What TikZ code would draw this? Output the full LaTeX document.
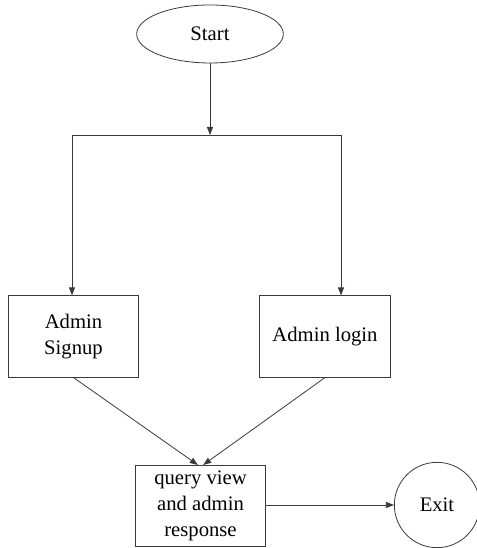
\documentclass[tikz,border=0pt]{standalone}
\usepackage{fontspec}
\setmainfont{Liberation Serif}
\usepackage{tikz}
\usetikzlibrary{
  arrows.meta,
  shapes.geometric,
  positioning,
  calc
}
\definecolor{fcLine}{HTML}{3A3A3A}
\tikzset{
  fcnode/.style={
    draw=fcLine, line width=0.6pt, align=center, inner sep=2pt,
    font=\rmfamily\fontsize{15.5}{19.5}\selectfont
  },
  terminal/.style={fcnode, ellipse, minimum width=110pt, minimum height=43.5pt},
  stepbox/.style={fcnode, rectangle, minimum width=98pt, minimum height=61pt},
  endcircle/.style={fcnode, circle, minimum size=64pt},
  flow/.style={-{Triangle[length=6pt, width=4.5pt]}, line width=0.6pt, fcLine},
  netline/.style={line width=0.6pt, fcLine}
}

\begin{document}
\begin{tikzpicture}[x=0.75pt, y=0.75pt]
  \useasboundingbox (0,0) rectangle (476,548);

  \node[terminal] (start) at (210,514) {Start};
  \coordinate (split) at (210,413);
  \coordinate (lcorner) at (72,413);
  \coordinate (rcorner) at (341,413);

  \node[stepbox] (signup) at (73.5,211.5) {Admin\\Signup};
  \node[stepbox] (login) at (325,211.5) {Admin login};
  \node[stepbox] (query) at (200.5,42) {query view\\and admin\\response};
  \node[endcircle] (exit) at (437,43) {Exit};

  \draw[flow] (start) -- (split);
  \draw[netline] (lcorner) -- (rcorner);
  \draw[flow] (lcorner) -- (signup.north -| lcorner);
  \draw[flow] (rcorner) -- (login.north -| rcorner);
  \draw[flow] (signup.south) -- ([xshift=-2pt]query.north);
  \draw[flow] (login.south) -- ([xshift=2pt]query.north);
  \draw[flow] (query.east |- exit.west) -- (exit.west);
\end{tikzpicture}
\end{document}
